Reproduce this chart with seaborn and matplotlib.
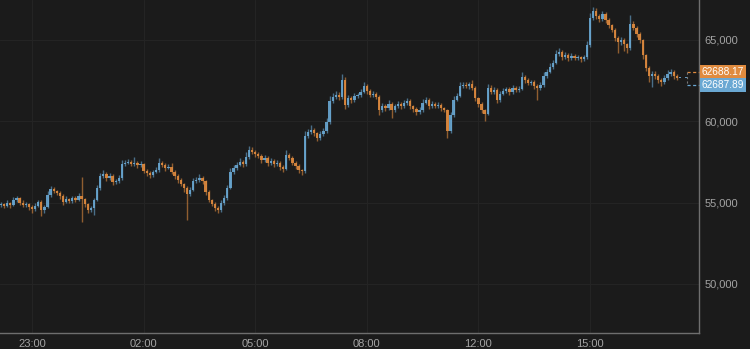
import numpy as np
import pandas as pd
import matplotlib
matplotlib.use("Agg")
import matplotlib.pyplot as plt
from matplotlib.transforms import offset_copy
from matplotlib.lines import Line2D
import seaborn as sns

# ---------------- data ----------------
start_hours = -10 / 12          # first candle at 22:10 (hours relative to 23:00)
candle_minutes = 5
first_open = 54850

closes = [
    54910, 54790, 54980, 54850, 55160, 55280, 54980, 54850, 54910, 54730,
    54610, 54790, 55040, 54550, 54730, 55470, 55840, 55710, 55590, 55410,
    55040, 55220, 55100, 55280, 55160, 55410, 55220, 54910, 54550, 54670,
    55160, 55900, 56640, 56760, 56510, 56640, 56270, 56330, 56510, 57370,
    57440, 57500, 57370, 57440, 57310, 57370, 56940, 56820, 56700, 56880,
    57000, 57440, 57310, 57130, 57190, 56880, 56640, 56390, 56140, 55900,
    55530, 55780, 56330, 56390, 56510, 56330, 55650, 55160, 54910, 54670,
    54550, 54980, 55280, 55900, 56880, 57130, 57310, 57500, 57370, 57810,
    58240, 58110, 57990, 57870, 57620, 57740, 57440, 57560, 57370, 57440,
    57190, 57070, 57930, 57740, 57440, 57250, 57000, 56940, 59100, 59340,
    59470, 59280, 58970, 59220, 59400, 59960, 61250, 61500, 61620, 61500,
    62540, 61000, 61430, 61310, 61560, 61620, 61800, 62170, 61860, 61620,
    61680, 61500, 60700, 60940, 60820, 61060, 60700, 60940, 61060, 60940,
    61130, 61250, 60940, 60760, 60570, 60700, 61130, 61310, 60940, 61060,
    60940, 61000, 60820, 60700, 59400, 60390, 61310, 61560, 62170, 62230,
    62170, 62290, 62050, 61430, 61060, 60700, 60450, 62050, 61800, 61930,
    61310, 61680, 61860, 61990, 61800, 62050, 61930, 61990, 62730, 62540,
    62360, 62420, 62170, 62050, 62230, 62790, 63030, 63340, 63590, 64140,
    64260, 63950, 64080, 63890, 64020, 63890, 63950, 63830, 63950, 64690,
    66350, 66780, 66480, 66290, 66600, 66230, 65920, 65620, 65120, 64880,
    65000, 64750, 64510, 65980, 65740, 65370, 65000, 64080, 63280, 62790,
    62910, 62790, 62540, 62420, 62660, 62910, 63030, 62790, 62688.17,
    62688.17, np.nan, 62688.17,
]

wick_up = [
    110, 80, 160, 70, 210, 130, 90, 150, 100, 70,
    100, 170, 120, 90, 130, 260, 200, 120, 90, 150,
    100, 180, 80, 130, 120, 170, 1160, 90, 70, 120,
    150, 210, 170, 260, 120, 200, 90, 130, 170, 230,
    150, 210, 120, 370, 130, 170, 90, 120, 100, 150,
    170, 300, 120, 150, 200, 250, 100, 90, 120, 70,
    130, 170, 210, 180, 250, 120, 90, 100, 70, 120,
    90, 150, 180, 210, 260, 170, 200, 230, 130, 280,
    250, 170, 120, 130, 90, 200, 100, 170, 120, 150,
    90, 100, 310, 130, 120, 90, 100, 70, 280, 210,
    320, 120, 90, 170, 200, 250, 280, 230, 260, 170,
    370, 210, 180, 120, 170, 150, 200, 260, 130, 120,
    170, 120, 100, 200, 130, 230, 120, 150, 180, 130,
    170, 210, 120, 90, 100, 150, 250, 200, 120, 170,
    130, 180, 100, 90, 70, 210, 230, 180, 260, 170,
    200, 150, 250, 120, 90, 100, 70, 250, 170, 150,
    120, 200, 170, 130, 120, 180, 150, 170, 300, 130,
    120, 150, 90, 100, 170, 230, 200, 250, 210, 250,
    260, 120, 200, 100, 170, 120, 150, 90, 130, 230,
    300, 250, 170, 120, 210, 130, 120, 90, 100, 150,
    200, 120, 90, 560, 170, 120, 100, 90, 70, 120,
    170, 210, 100, 130, 180, 230, 200, 120, 100,
    0, 0, 0,
]

wick_dn = [
    130, 100, 90, 170, 70, 120, 150, 100, 130, 210,
    280, 120, 90, 370, 170, 70, 120, 150, 100, 170,
    200, 90, 150, 100, 130, 90, 1410, 170, 210, 120,
    430, 90, 120, 100, 170, 90, 200, 130, 100, 90,
    120, 90, 150, 100, 170, 120, 130, 200, 170, 100,
    90, 120, 100, 170, 90, 130, 170, 200, 150, 230,
    1600, 130, 90, 120, 100, 170, 200, 150, 130, 180,
    200, 120, 100, 90, 70, 130, 100, 90, 170, 120,
    100, 130, 170, 120, 200, 100, 170, 120, 180, 130,
    210, 170, 90, 130, 150, 170, 200, 230, 90, 120,
    100, 170, 210, 120, 100, 90, 120, 100, 130, 170,
    120, 260, 150, 180, 120, 100, 130, 90, 170, 120,
    100, 150, 290, 120, 200, 100, 500, 150, 120, 170,
    100, 130, 200, 170, 210, 120, 100, 90, 170, 130,
    150, 120, 170, 130, 430, 120, 100, 90, 70, 130,
    120, 170, 130, 200, 150, 170, 430, 90, 150, 120,
    210, 100, 90, 130, 170, 100, 150, 120, 90, 170,
    130, 100, 180, 740, 120, 90, 100, 90, 120, 70,
    100, 210, 120, 170, 100, 150, 120, 200, 130, 90,
    120, 100, 210, 170, 120, 200, 170, 130, 210, 680,
    170, 400, 300, 100, 150, 210, 170, 260, 200, 400,
    680, 170, 200, 230, 150, 120, 130, 170, 120,
    0, 0, 0,
]

tick_hours = [0, 3, 6, 9, 12, 15]
tick_labels = ["23:00", "02:00", "05:00", "08:00", "12:00", "15:00"]
y_ticks = [50000, 55000, 60000, 65000]
last_price = 62688.17
mark_price = 62687.89

# ---------------- build frame ----------------
n = len(closes)
df = pd.DataFrame({"close": closes, "wu": wick_up, "wd": wick_dn})
df["t"] = start_hours + np.arange(n) * candle_minutes / 60
df["open"] = df["close"].shift(1)
df.loc[0, "open"] = first_open
df["open"] = df["open"].ffill()
df["high"] = df[["open", "close"]].max(axis=1) + df["wu"]
df["low"] = df[["open", "close"]].min(axis=1) - df["wd"]
df = df.dropna(subset=["close"])
df["dir"] = np.where(df["close"] >= df["open"], "up", "down")

# ---------------- style ----------------
BG = "#1b1b1b"
UP = "#6aa8d3"
DOWN = "#e08b3f"
GRID = "#242424"
TXT = "#a3a3a3"
sns.set_theme(style="dark", rc={
    "axes.facecolor": BG, "figure.facecolor": BG,
    "axes.grid": True, "grid.color": GRID, "grid.linewidth": 0.8,
    "text.color": TXT, "xtick.color": TXT, "ytick.color": TXT,
})
plt.rcParams["font.family"] = ["Liberation Sans", "DejaVu Sans"]

fig = plt.figure(figsize=(7.5, 3.49), dpi=100)
ax = fig.add_axes([0, 16 / 349, 699 / 750, 333 / 349])

palette = {"up": UP, "down": DOWN}
width = 0.72 * candle_minutes / 60
for key, sub in df.groupby("dir"):
    col = palette[key]
    ax.vlines(sub["t"], sub["low"], sub["high"], color=col, lw=1.0, alpha=0.6, zorder=2)
    body = (sub["close"] - sub["open"]).abs().clip(lower=40)
    ax.bar(sub["t"], body, bottom=sub[["open", "close"]].min(axis=1),
           width=width, color=col, lw=0, alpha=0.9, zorder=3)

ax.set_xlim((-32) / 37.2, (699 - 32) / 37.2)
ax.set_ylim(46980, 67460)

ax.set_xticks(tick_hours)
ax.set_xticklabels(tick_labels)
ax.set_yticks(y_ticks)
ax.set_yticklabels([f"{v:,}" for v in y_ticks])
ax.yaxis.tick_right()
ax.tick_params(axis="x", length=0, pad=4, labelsize=8, colors=TXT)
ax.tick_params(axis="y", length=0, pad=4, labelsize=8, colors=TXT)
ax.grid(True, color=GRID, lw=0.8)

for s in ["top", "left"]:
    ax.spines[s].set_visible(False)
for s in ["right", "bottom"]:
    ax.spines[s].set_visible(True)
    ax.spines[s].set_color("#6e6e6e")
    ax.spines[s].set_linewidth(1.0)

# price labels on the right axis
trans = ax.get_yaxis_transform()
for price, col, dy in [(last_price, DOWN, 4.2), (mark_price, UP, -5.4)]:
    ax.annotate(f"{price:.2f}", xy=(1.0, price), xycoords=trans,
                xytext=(2, dy), textcoords="offset points",
                ha="left", va="center", fontsize=7.3, color="white",
                bbox=dict(boxstyle="square,pad=0.22", fc=col, ec="none"),
                annotation_clip=False)
    tr = offset_copy(trans, fig=fig, x=0, y=dy, units="points")
    ax.plot([0.983, 1.0], [price, price], transform=tr, color=col,
            lw=0.9, ls=(0, (2.5, 2)), clip_on=False, zorder=4)
tr_top = offset_copy(trans, fig=fig, x=0, y=4.2, units="points")
tr_bot = offset_copy(trans, fig=fig, x=0, y=-5.4, units="points")
p1 = tr_top.transform((0.983, last_price))
p2 = tr_bot.transform((0.983, mark_price))
fig.add_artist(Line2D([p1[0] / fig.bbox.width, p2[0] / fig.bbox.width],
                      [p1[1] / fig.bbox.height, p2[1] / fig.bbox.height],
                      color="#777777", lw=0.8, ls=(0, (2, 2))))

fig.savefig("out.png", dpi=100, facecolor=BG)
